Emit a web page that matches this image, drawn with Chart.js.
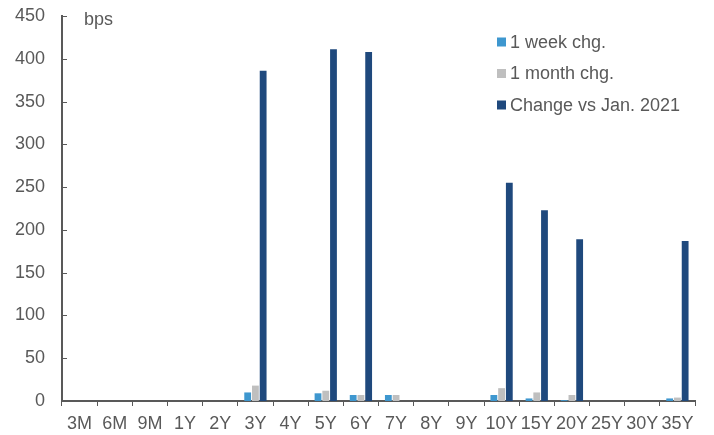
<!DOCTYPE html>
<html>
<head>
<meta charset="utf-8">
<script src="https://cdn.jsdelivr.net/npm/chart.js@4/dist/chart.umd.min.js"></script>
<style>
  html, body { margin: 0; padding: 0; background: #fff; }
  #wrap { width: 714px; height: 435px; position: relative; }
</style>
</head>
<body>
<div id="wrap"><canvas id="c" width="714" height="435"></canvas></div>
<script>
// Curve tenors
const tenors = ['3M','6M','9M','1Y','2Y','3Y','4Y','5Y','6Y','7Y','8Y','9Y','10Y','15Y','20Y','25Y','30Y','35Y'];

// Yield changes in basis points
const weekChg   = [null,null,null,null,null,10,null,9,7,7,null,null,7,3,1,null,null,3];
const monthChg  = [null,null,null,null,null,18,null,12,7,7,null,null,15,10,7,null,null,4];
const sinceJan  = [null,null,null,null,null,386,null,411,408,null,null,null,255,223,189,null,null,187];

// Y-axis tick values
const yTicks = [0,50,100,150,200,250,300,350,400,450];

const seriesNames = ['1 week chg.', '1 month chg.', 'Change vs Jan. 2021'];
const seriesColors = ['#3E97CF', '#BFBFBF', '#1F497D'];

const FONT = 'Liberation Sans, Arial, sans-serif';
const FONT_SIZE = 18;
const TEXT = '#595959';
const AXIS = '#595959';

// Small inward tick marks on the value axis, the unit caption and the legend box
const decorations = {
  id: 'decorations',
  afterDraw(chart) {
    const ctx = chart.ctx;
    const y = chart.scales.y;
    const area = chart.chartArea;
    ctx.save();
    ctx.strokeStyle = AXIS;
    ctx.lineWidth = 1;
    yTicks.forEach(v => {
      const py = Math.round(y.getPixelForValue(v)) + 0.5;
      ctx.beginPath();
      ctx.moveTo(area.left, py);
      ctx.lineTo(area.left + 5, py);
      ctx.stroke();
    });

    ctx.fillStyle = TEXT;
    ctx.font = FONT_SIZE + 'px ' + FONT;
    ctx.textBaseline = 'middle';
    ctx.textAlign = 'left';
    ctx.fillText('bps', 84, 20);

    const lx = 497, ly0 = 42, step = 31.5;
    chart.data.datasets.forEach((ds, i) => {
      const ly = ly0 + i * step;
      ctx.fillStyle = ds.backgroundColor;
      ctx.fillRect(lx, ly - 4.5, 9, 9);
      ctx.fillStyle = TEXT;
      ctx.fillText(ds.label, lx + 13, ly + 1);
    });
    ctx.restore();
  }
};

new Chart(document.getElementById('c'), {
  type: 'bar',
  data: {
    labels: tenors,
    datasets: [
      { label: seriesNames[0], data: weekChg,  backgroundColor: seriesColors[0] },
      { label: seriesNames[1], data: monthChg, backgroundColor: seriesColors[1] },
      { label: seriesNames[2], data: sinceJan, backgroundColor: seriesColors[2] }
    ]
  },
  options: {
    responsive: false,
    animation: false,
    devicePixelRatio: 1,
    layout: { padding: { left: 0, right: 19, top: 16, bottom: 0 } },
    datasets: { bar: { categoryPercentage: 0.66, barPercentage: 0.88 } },
    plugins: {
      legend: { display: false },
      tooltip: { enabled: false }
    },
    scales: {
      x: {
        offset: true,
        afterFit(scale) { scale.height = 34; },
        grid: {
          offset: true,
          drawOnChartArea: false,
          drawTicks: true,
          tickLength: 5,
          color: AXIS
        },
        border: { color: AXIS, width: 2 },
        ticks: {
          color: TEXT,
          font: { family: FONT, size: FONT_SIZE },
          padding: 7,
          maxRotation: 0,
          autoSkip: false
        }
      },
      y: {
        min: 0,
        max: 450,
        afterBuildTicks(scale) { scale.ticks = yTicks.map(v => ({ value: v })); },
        afterFit(scale) {
          scale.width = 62;
          scale.paddingTop = 0;
          scale.paddingBottom = 0;
        },
        grid: { display: false, drawTicks: false },
        border: { color: AXIS, width: 2 },
        ticks: {
          color: TEXT,
          font: { family: FONT, size: FONT_SIZE },
          padding: 17
        }
      }
    }
  },
  plugins: [decorations]
});
</script>
</body>
</html>
